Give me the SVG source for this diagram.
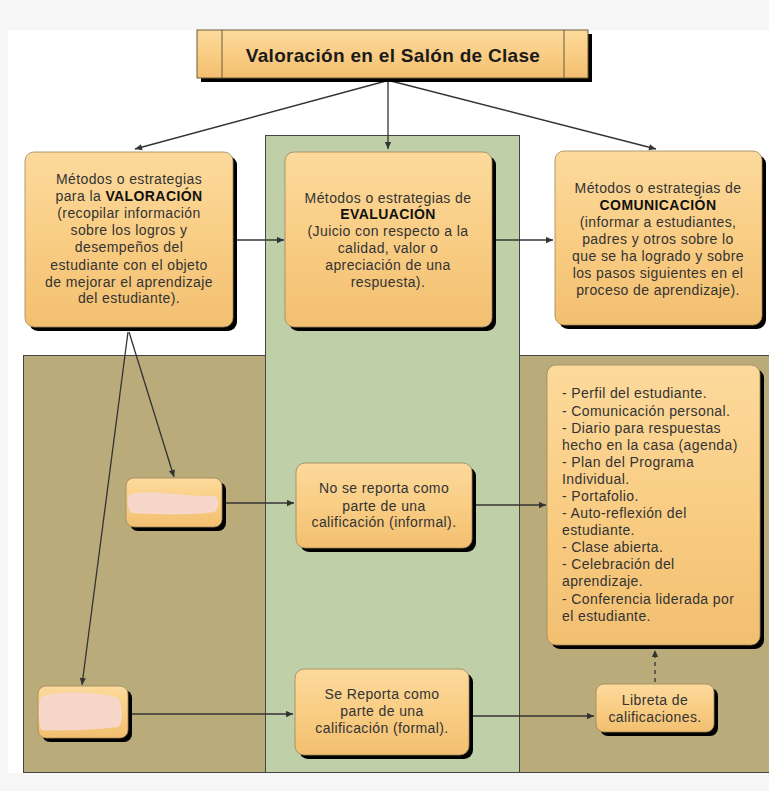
<svg xmlns="http://www.w3.org/2000/svg" width="769" height="791" viewBox="0 0 769 791">
<defs>
<linearGradient id="ng" x1="0" y1="0" x2="0" y2="1">
<stop offset="0" stop-color="#fcda9c"/>
<stop offset="0.5" stop-color="#f9cd84"/>
<stop offset="1" stop-color="#f2bf70"/>
</linearGradient>
<marker id="arr" viewBox="0 0 10 10" refX="10" refY="5" markerWidth="9" markerHeight="7" markerUnits="userSpaceOnUse" orient="auto">
<path d="M0,0.5 L10,5 L0,9.5 z" fill="#333"/>
</marker>
<style>
.bg{fill:#f6f6f6}
.tan{fill:#baac7a;stroke:#444;stroke-width:1}
.grn{fill:#bfcfa7;stroke:#444;stroke-width:1}
.sh{fill:#000}
.nd{fill:url(#ng);stroke:#9c875c;stroke-width:0.8}
.pk{fill:#f6d7c9}
text{font-family:"Liberation Sans",Arial,sans-serif;font-size:14px;fill:#333;letter-spacing:0.4px}
.c{text-anchor:middle}
.b{font-weight:bold;fill:#111}
.ttl{font-size:19px;font-weight:bold;fill:#1a1a1a;letter-spacing:0.3px}
.cn{fill:none;stroke:#333;stroke-width:1.3;marker-end:url(#arr)}
.dash{stroke-dasharray:4 4}
</style>
</defs>

<g id="background">
<rect class="bg" x="0" y="0" width="769" height="791"/>
<rect x="8" y="30" width="761" height="743" fill="#fff"/>
<rect class="tan" x="23.5" y="355.5" width="242" height="417"/>
<rect class="tan" x="519.5" y="355.5" width="252" height="417"/>
<rect class="grn" x="265.5" y="135.5" width="254" height="637"/>
</g>

<g id="connectors">
<line class="cn" x1="386" y1="81" x2="135" y2="149"/>
<line class="cn" x1="388" y1="81" x2="388" y2="149"/>
<line class="cn" x1="391" y1="81" x2="656" y2="149"/>
<line class="cn" x1="237" y1="240" x2="284" y2="240"/>
<line class="cn" x1="496" y1="240" x2="553" y2="240"/>
<line class="cn" x1="129" y1="332" x2="174" y2="477"/>
<line class="cn" x1="128" y1="332" x2="82" y2="685"/>
<line class="cn" x1="226" y1="503" x2="294" y2="503"/>
<line class="cn" x1="476" y1="505" x2="546" y2="505"/>
<line class="cn" x1="132" y1="714" x2="293" y2="714"/>
<line class="cn" x1="473" y1="716" x2="594" y2="716"/>
<line class="cn dash" x1="655" y1="682" x2="655" y2="650"/>
</g>

<g id="title">
<rect class="sh" x="201" y="34" width="391" height="48"/>
<rect x="197" y="30" width="391" height="48" fill="url(#ng)" stroke="#6b5a3a" stroke-width="1"/>
<line x1="222" y1="30" x2="222" y2="78" stroke="#6b5a3a" stroke-width="1"/>
<line x1="564" y1="30" x2="564" y2="78" stroke="#6b5a3a" stroke-width="1"/>
<text class="ttl c" x="393" y="62">Valoración en el Salón de Clase</text>
</g>

<g id="valoracion">
<rect class="sh" x="29" y="156" width="208" height="175" rx="9"/>
<rect class="nd" x="25" y="152" width="208" height="175" rx="9"/>
<text class="c" x="129" y="184">Métodos o estrategias</text>
<text class="c" x="129" y="201">para la <tspan class="b">VALORACIÓN</tspan></text>
<text class="c" x="129" y="218">(recopilar información</text>
<text class="c" x="129" y="235">sobre los logros y</text>
<text class="c" x="129" y="252">desempeños  del</text>
<text class="c" x="129" y="270">estudiante con el objeto</text>
<text class="c" x="129" y="287">de  mejorar el aprendizaje</text>
<text class="c" x="129" y="303">del estudiante).</text>
</g>

<g id="evaluacion">
<rect class="sh" x="289" y="156" width="207" height="175" rx="9"/>
<rect class="nd" x="285" y="152" width="207" height="175" rx="9"/>
<text class="c" x="388" y="203">Métodos o estrategias de</text>
<text class="c b" x="388" y="219">EVALUACIÓN</text>
<text class="c" x="388" y="236">(Juicio con respecto a la</text>
<text class="c" x="388" y="253">calidad, valor o</text>
<text class="c" x="388" y="270">apreciación de una</text>
<text class="c" x="388" y="287">respuesta).</text>
</g>

<g id="comunicacion">
<rect class="sh" x="559" y="155" width="207" height="174" rx="9"/>
<rect class="nd" x="555" y="151" width="207" height="174" rx="9"/>
<text class="c" x="658" y="193">Métodos o estrategias de</text>
<text class="c b" x="658" y="210">COMUNICACIÓN</text>
<text class="c" x="658" y="227">(informar a estudiantes,</text>
<text class="c" x="658" y="244">padres y otros sobre lo</text>
<text class="c" x="658" y="261">que se ha logrado y sobre</text>
<text class="c" x="658" y="278">los pasos siguientes en el</text>
<text class="c" x="658" y="295">proceso de aprendizaje).</text>
</g>

<g id="informal-tag">
<rect class="sh" x="130" y="482" width="96" height="49" rx="8"/>
<rect class="nd" x="126" y="478" width="96" height="49" rx="8"/>
<path class="pk" d="M130,494 C150,489 180,497 215,496 C220,500 219,510 214,512 C185,516 150,514 131,513 C127,507 127,498 130,494 z"/>
</g>

<g id="informal">
<rect class="sh" x="300" y="467" width="176" height="85" rx="9"/>
<rect class="nd" x="296" y="463" width="176" height="85" rx="9"/>
<text class="c" x="384" y="493">No se reporta como</text>
<text class="c" x="384" y="511">parte de una</text>
<text class="c" x="384" y="527">calificación (informal).</text>
</g>

<g id="lista">
<rect class="sh" x="551" y="369" width="213" height="280" rx="9"/>
<rect class="nd" x="547" y="365" width="213" height="280" rx="9"/>
<text x="562" y="398">- Perfil del estudiante.</text>
<text x="562" y="416">- Comunicación personal.</text>
<text x="562" y="433">- Diario para respuestas</text>
<text x="562" y="450">hecho en la casa (agenda)</text>
<text x="562" y="467">- Plan del Programa</text>
<text x="562" y="484">Individual.</text>
<text x="562" y="501">- Portafolio.</text>
<text x="562" y="518">- Auto-reflexión del</text>
<text x="562" y="535">estudiante.</text>
<text x="562" y="552">- Clase abierta.</text>
<text x="562" y="569">- Celebración del</text>
<text x="562" y="586">aprendizaje.</text>
<text x="562" y="604">- Conferencia liderada por</text>
<text x="562" y="621">el estudiante.</text>
</g>

<g id="formal-tag">
<rect class="sh" x="42" y="690" width="90" height="52" rx="8"/>
<rect class="nd" x="38" y="686" width="90" height="52" rx="8"/>
<path class="pk" d="M41,697 C60,690 100,692 118,698 C124,708 123,722 118,727 C95,730 60,731 41,730 C38,720 38,705 41,697 z"/>
</g>

<g id="formal">
<rect class="sh" x="299" y="673" width="174" height="86" rx="9"/>
<rect class="nd" x="295" y="669" width="174" height="86" rx="9"/>
<text class="c" x="382" y="699">Se Reporta como</text>
<text class="c" x="382" y="716">parte de una</text>
<text class="c" x="382" y="733">calificación (formal).</text>
</g>

<g id="libreta">
<rect class="sh" x="600" y="688" width="118" height="48" rx="8"/>
<rect class="nd" x="596" y="684" width="118" height="48" rx="8"/>
<text class="c" x="655" y="705">Libreta de</text>
<text class="c" x="655" y="722">calificaciones.</text>
</g>
</svg>
